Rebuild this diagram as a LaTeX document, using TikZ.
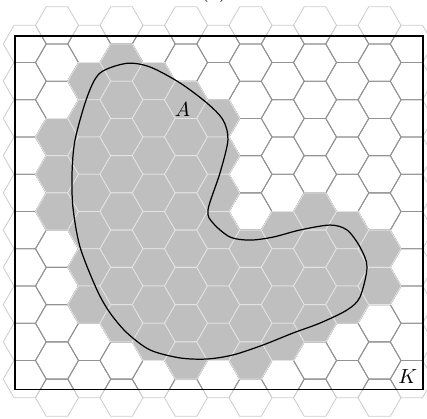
\documentclass[tikz,border=0pt]{standalone}
\tikzset{
  hexline/.style={line width=0.4pt, draw=#1},
  cellfill/.style={fill=gray!50, draw=gray!22, line width=0.4pt},
  blob/.style={line width=0.6pt, black},
  frame/.style={line width=0.8pt, black}
}
% one hexagon around the centre of column #1, row #2
\newcommand{\hexpath}[2]{%
  \pgfmathsetmacro{\hx}{1.5*#1}%
  \pgfmathsetmacro{\hy}{-1.7320508*#2-0.8660254*mod(#1+2,2)}%
}
\newcommand{\hexgrid}[1]{%
  \foreach \c in {-1,...,11}{
    \pgfmathtruncatemacro{\odd}{mod(\c+2,2)}
    \pgfmathtruncatemacro{\rmax}{10-\odd}
    \foreach \r in {0,...,\rmax}{
      \hexpath{\c}{\r}
      \draw[hexline=#1] (\hx,\hy) ++(1,0) -- ++(120:1) -- ++(180:1)
        -- ++(240:1) -- ++(300:1) -- ++(0:1) -- cycle;
    }
  }
}
\begin{document}
\begin{tikzpicture}[x=0.37cm, y=0.37cm]
\useasboundingbox (-2.651,1.177) rectangle (17.209,-18.265);
\node[anchor=base] (cap) at (7.3,1.29) {(a)};
% the grid, lighter outside K
\hexgrid{gray!40}
\begin{scope}
\clip (-1.953,-0.498) rectangle (17.01,-16.93);
\hexgrid{gray!85}
\end{scope}
% cells that meet A
\foreach \c/\rows in {0/{3,4,5},1/{1,...,7},2/{1,...,8},3/{1,...,8},4/{2,...,9},
    5/{2,...,8},6/{6,...,9},7/{5,...,8},8/{5,...,8},9/{5,6,7},10/{6,7}}{
  \foreach \r in \rows{
    \hexpath{\c}{\r}
    \path[cellfill] (\hx,\hy) ++(1,0) -- ++(120:1) -- ++(180:1)
      -- ++(240:1) -- ++(300:1) -- ++(0:1) -- cycle;
  }
}
% the set A
\draw[blob] plot[smooth cycle] coordinates {
  (3.24,-1.77) (4.33,-1.94) (5.72,-2.68) (6.98,-3.62) (7.72,-4.40)
  (7.95,-5.33) (7.58,-6.87) (7.02,-8.59) (7.26,-9.20) (8.05,-9.85)
  (8.98,-9.99) (10.05,-9.85) (11.30,-9.52) (12.70,-9.29) (13.49,-9.52)
  (14.09,-10.31) (14.42,-11.24) (14.09,-12.64) (13.49,-13.24) (12.23,-13.85)
  (10.98,-14.31) (9.58,-14.87) (8.19,-15.33) (6.98,-15.52) (5.72,-15.47)
  (4.33,-15.10) (3.26,-14.31) (2.47,-13.38) (1.86,-12.31) (1.07,-10.31)
  (0.74,-8.45) (0.70,-6.87) (0.84,-5.33) (1.40,-3.34) (2.00,-2.22)};
\node (labA) at (5.84,-3.92) {$A$};
% the box K
\coordinate (Knw) at (-1.953,-0.498);
\coordinate (Kse) at (17.01,-16.93);
\draw[frame] (Knw) rectangle (Kse);
\node[above left, inner sep=2.5pt] (labK) at (Kse) {$K$};
\end{tikzpicture}
\end{document}
